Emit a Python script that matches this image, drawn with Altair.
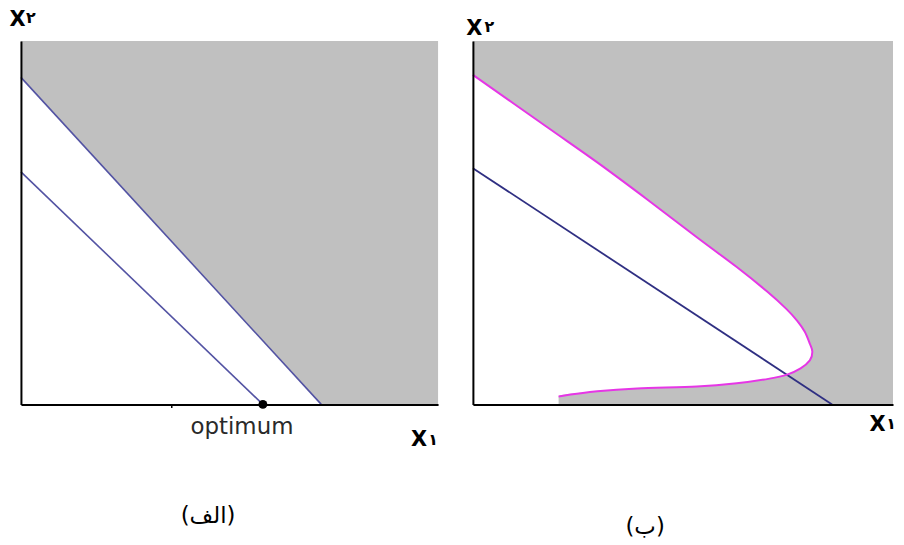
import altair as alt
import pandas as pd

# ---------------- data ----------------
frame_x = [0, 10]
frame_y = [0, 10]

# panel (الف)
upper_x = [0, 7.2]
upper_y = [9.0, 0]
lower_x = [0, 5.8]
lower_y = [6.4, 0]
opt_x = [5.8]
opt_y = [0]
opt_label = ["optimum"]
tick_values = [3.6]

# panel (ب)
line_b_x = [0, 8.55]
line_b_y = [6.5, 0]
curve_x = [0.0, 1.78, 2.96, 4.15, 5.33, 6.28, 6.99, 7.46, 7.72, 7.90, 8.02, 8.08,
           8.02, 7.80, 7.48, 7.06, 6.28, 5.33, 3.91, 2.96, 2.04]
curve_y = [9.07, 7.62, 6.66, 5.64, 4.60, 3.78, 3.12, 2.63, 2.30, 2.00, 1.67, 1.45,
           1.21, 0.99, 0.82, 0.71, 0.58, 0.49, 0.44, 0.36, 0.22]

titles = ["(الف)", "(ب)"]
x_name = "X"
x1_digit = "۱"
x2_digit = "۲"

GRAY = "#C0C0C0"
BLUE_A = "#5353A3"
BLUE_B = "#2F2F82"
MAGENTA = "#E636E6"
H = 365

frame_df = pd.DataFrame({"x0": [frame_x[0]], "x1": [frame_x[1]],
                         "y0": [frame_y[0]], "y1": [frame_y[1]]})

sx = alt.Scale(domain=[0, 10], nice=False, zero=False)
sy = alt.Scale(domain=[0, 10], nice=False, zero=False)


def x_axis(ticks=None):
    if ticks:
        return alt.Axis(title=None, labels=False, ticks=True, values=ticks, tickSize=3,
                        tickColor="black", tickWidth=1.5, grid=False,
                        domainColor="black", domainWidth=2, zindex=2)
    return alt.Axis(title=None, labels=False, ticks=False, grid=False,
                    domainColor="black", domainWidth=2, zindex=2)


y_axis = alt.Axis(title=None, labels=False, ticks=False, grid=False,
                  domainColor="black", domainWidth=2, zindex=2)


def label(text, x, y, size, weight="normal", font="DejaVu Sans"):
    return alt.Chart(pd.DataFrame({"t": [text]})).mark_text(
        font=font, fontSize=size, fontWeight=weight, color="black",
        align="center", baseline="middle"
    ).encode(x=alt.value(x), y=alt.value(y), text="t:N")


def background(ticks=None):
    return alt.Chart(frame_df).mark_rect(color=GRAY).encode(
        x=alt.X("x0:Q", scale=sx, axis=x_axis(ticks)), x2="x1:Q",
        y=alt.Y("y0:Q", scale=sy, axis=y_axis), y2="y1:Q")


# ---------------- panel A ----------------
up_df = pd.DataFrame({"x": upper_x, "y": upper_y})
lo_df = pd.DataFrame({"x": lower_x, "y": lower_y})
opt_df = pd.DataFrame({"x": opt_x, "y": opt_y, "label": opt_label})

white_a = alt.Chart(up_df).mark_area(color="white", opacity=1).encode(
    x=alt.X("x:Q", scale=sx), y=alt.Y("y:Q", scale=sy, stack=None))
line_up = alt.Chart(up_df).mark_line(color=BLUE_A, strokeWidth=1.6).encode(
    x=alt.X("x:Q", scale=sx), y=alt.Y("y:Q", scale=sy))
line_lo = alt.Chart(lo_df).mark_line(color=BLUE_A, strokeWidth=1.6).encode(
    x=alt.X("x:Q", scale=sx), y=alt.Y("y:Q", scale=sy))
dot = alt.Chart(opt_df).mark_point(filled=True, color="black", size=80, opacity=1).encode(
    x=alt.X("x:Q", scale=sx), y=alt.Y("y:Q", scale=sy))
opt_text = alt.Chart(opt_df).mark_text(
    font="DejaVu Sans", fontSize=23, color="#2a2a2a", align="center",
    baseline="alphabetic", dx=-21, dy=30).encode(
    x=alt.X("x:Q", scale=sx), y=alt.Y("y:Q", scale=sy), text="label:N")

panel_a = alt.layer(
    background(tick_values), white_a, line_up, line_lo, dot, opt_text,
    label(x_name, -3.5, -21, 21, "bold"),
    label(x2_digit, 10, -23, 16, "bold"),
    label(x_name, 400, 401, 21, "bold"),
    label(x1_digit, 414, 401, 16, "bold"),
    label(titles[0], 188, 477, 23),
).properties(width=419, height=H)

# ---------------- panel B ----------------
lb_df = pd.DataFrame({"x": line_b_x, "y": line_b_y})
cv_df = pd.DataFrame({"x": curve_x, "y": curve_y, "i": list(range(len(curve_x)))})
wh_df = pd.DataFrame({"x": curve_x + [curve_x[-1]], "y": curve_y + [0]})

white_b = alt.Chart(wh_df).mark_area(color="white", opacity=1, orient="horizontal",
                                     interpolate="monotone").encode(
    y=alt.Y("y:Q", scale=sy), x=alt.X("x:Q", scale=sx, stack=None))
curve = alt.Chart(cv_df).mark_line(color=MAGENTA, strokeWidth=2, interpolate="cardinal").encode(
    x=alt.X("x:Q", scale=sx), y=alt.Y("y:Q", scale=sy), order="i:Q")
line_b = alt.Chart(lb_df).mark_line(color=BLUE_B, strokeWidth=1.8).encode(
    x=alt.X("x:Q", scale=sx), y=alt.Y("y:Q", scale=sy))

panel_b = alt.layer(
    background(), white_b, line_b, curve,
    label(x_name, 1.5, -12.5, 21, "bold"),
    label(x2_digit, 16.5, -14, 16, "bold"),
    label(x_name, 406.5, 386, 21, "bold"),
    label(x1_digit, 420, 385, 16, "bold"),
    label(titles[1], 173, 488, 23),
).properties(width=422, height=H)

chart = alt.hconcat(panel_a, panel_b, spacing=35, bounds="flush").properties(
    padding={"left": 1, "top": 0, "right": 0, "bottom": 0}
).configure_view(strokeWidth=0)

chart.save("out.html", embed_options={"renderer": "svg", "actions": False})
